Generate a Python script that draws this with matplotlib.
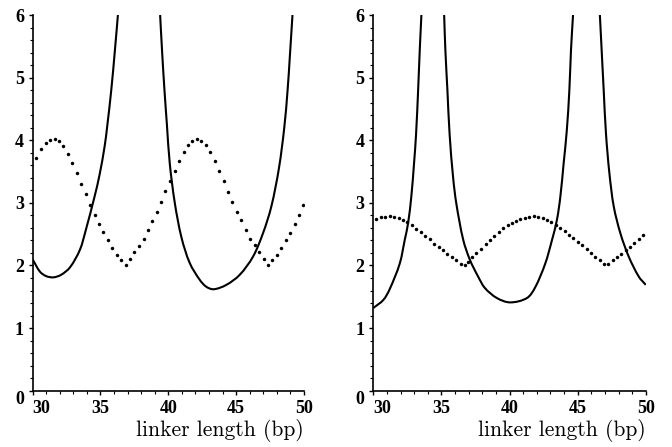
import matplotlib
matplotlib.use('Agg')
import matplotlib.pyplot as plt
import numpy as np
from matplotlib.ticker import FixedLocator, MultipleLocator
from matplotlib.path import Path
from matplotlib.patches import PathPatch

nan = np.nan

# ---------------- data ----------------
x_ticks = [30, 35, 40, 45, 50]
y_ticks = [0, 1, 2, 3, 4, 5, 6]
x_tick_labels = ["30", "35", "40", "45", "50"]
y_tick_labels = ["0", "1", "2", "3", "4", "5", "6"]
x_label = "linker length (bp)"

# left panel, solid curve (NaN = the curve leaves the top of the plot)
left_solid_x = [30.00, 30.55, 31.00, 31.53, 32.10, 32.76, 33.49, 33.93, 34.57, 34.94,
                35.31, 35.50, 35.80, 36.07, 36.29, nan,
                39.40, 39.55, 39.72, 39.90, 40.11, 40.48, 40.97, 41.58, 42.32, 42.80,
                43.35, 44.28, 45.26, 46.24, 46.97, 47.59, 48.15, 48.54, 48.79,
                48.96, 49.15]
left_solid_y = [2.10, 1.90, 1.83, 1.81, 1.85, 1.97, 2.25, 2.57, 3.10, 3.45,
                3.90, 4.22, 4.80, 5.44, 6.00, nan,
                6.00, 5.40, 4.80, 4.25, 3.63, 3.00, 2.45, 2.04, 1.77, 1.66,
                1.62, 1.69, 1.85, 2.14, 2.51, 2.94, 3.55, 4.19, 4.80,
                5.35, 6.00]

# left panel, dotted curve
left_dot_x = [30.28, 30.65, 30.97, 31.29, 31.63, 31.95, 32.27, 32.61, 32.93, 33.27,
              33.59, 33.93, 34.25, 34.57, 34.89, 35.21, 35.55, 35.87, 36.19, 36.53,
              36.85, 37.17, 37.51, 37.83, 38.18, 38.49, 38.81, 39.15, 39.47, 39.79,
              40.11, 40.48, 40.79, 41.14, 41.46, 41.78, 42.10, 42.44, 42.76, 43.10,
              43.42, 43.74, 44.08, 44.40, 44.72, 45.06, 45.38, 45.70, 46.04, 46.36,
              46.68, 47.02, 47.34, 47.66, 48.00, 48.32, 48.64, 48.98, 49.30, 49.62,
              49.96]
left_dot_y = [3.72, 3.86, 3.95, 4.00, 4.02, 3.98, 3.90, 3.78, 3.63, 3.47,
              3.30, 3.14, 2.96, 2.81, 2.66, 2.53, 2.40, 2.28, 2.17, 2.08,
              2.01, 2.10, 2.21, 2.31, 2.43, 2.57, 2.71, 2.86, 3.02, 3.19,
              3.35, 3.51, 3.67, 3.81, 3.92, 3.99, 4.02, 3.99, 3.92, 3.81,
              3.67, 3.51, 3.35, 3.18, 3.02, 2.86, 2.72, 2.57, 2.43, 2.33,
              2.21, 2.11, 2.01, 2.08, 2.17, 2.28, 2.40, 2.52, 2.66, 2.81,
              2.97]

# right panel, solid curve
right_solid_x = [30.00, 30.74, 31.20, 31.94, 32.31, 32.55, 32.79, 32.99, 33.14, 33.29,
                 33.41, 33.53, nan,
                 35.20, 35.29, 35.44, 35.60, 35.86, 36.10, 36.60, 37.09, 37.70, 38.19,
                 39.07, 40.05, 41.28, 41.88, 42.62, 43.12, 43.48, 43.73, 43.97, 44.20,
                 44.39, 44.51, 44.66, nan,
                 46.63, 46.76, 46.91, 47.08, 47.33, 47.65, 48.14, 48.75, 49.49, 50.00]
right_solid_y = [1.32, 1.45, 1.62, 2.03, 2.41, 2.67, 3.10, 3.63, 4.10, 4.80,
                 5.44, 6.00, nan,
                 6.00, 5.44, 4.80, 4.10, 3.40, 2.98, 2.41, 2.09, 1.82, 1.64,
                 1.48, 1.41, 1.48, 1.65, 2.03, 2.41, 2.73, 3.10, 3.63, 4.15,
                 4.80, 5.44, 6.00, nan,
                 6.00, 5.44, 4.80, 4.10, 3.47, 2.94, 2.51, 2.14, 1.82, 1.69]

# right panel, dotted curve
right_dot_x = [30.22, 30.54, 30.88, 31.20, 31.51, 31.86, 32.18, 32.50, 32.85, 33.16,
               33.49, 33.82, 34.15, 34.46, 34.81, 35.13, 35.44, 35.79, 36.10, 36.43,
               36.72, 36.96, 37.26, 37.57, 37.90, 38.24, 38.56, 38.88, 39.22, 39.54,
               39.85, 40.17, 40.47, 40.79, 41.10, 41.45, 41.76, 42.09, 42.43, 42.75,
               43.07, 43.41, 43.73, 44.05, 44.37, 44.69, 45.01, 45.33, 45.65, 45.97,
               46.29, 46.61, 46.93, 47.25, 47.57, 47.89, 48.21, 48.53, 48.85, 49.17,
               49.49, 49.81]
right_dot_y = [2.74, 2.77, 2.78, 2.79, 2.78, 2.76, 2.73, 2.69, 2.64, 2.58,
               2.53, 2.47, 2.42, 2.35, 2.30, 2.25, 2.18, 2.13, 2.08, 2.03,
               2.00, 2.06, 2.14, 2.20, 2.27, 2.34, 2.41, 2.47, 2.54, 2.60,
               2.64, 2.68, 2.71, 2.74, 2.76, 2.78, 2.79, 2.78, 2.76, 2.73,
               2.69, 2.65, 2.60, 2.55, 2.49, 2.44, 2.38, 2.32, 2.26, 2.20,
               2.14, 2.08, 2.03, 2.03, 2.08, 2.14, 2.19, 2.25, 2.30, 2.36,
               2.42, 2.48]

panels = [
    (left_solid_x, left_solid_y, left_dot_x, left_dot_y),
    (right_solid_x, right_solid_y, right_dot_x, right_dot_y),
]


def smooth_path(xs, ys, sx=13.6, sy=62.6):
    """Chord-length Catmull-Rom Bezier path through the read points; NaN splits pieces."""
    xs = np.asarray(xs, float)
    ys = np.asarray(ys, float)
    verts, codes = [], []
    breaks = np.where(np.isnan(xs))[0]
    starts = np.concatenate([[0], breaks + 1])
    ends = np.concatenate([breaks, [len(xs)]])
    for s, e in zip(starts, ends):
        p = np.column_stack([xs[s:e], ys[s:e]])
        n = len(p)
        q = p * np.array([sx, sy])
        d = np.hypot(*np.diff(q, axis=0).T)
        t = np.concatenate([[0], np.cumsum(d)])
        m = np.zeros_like(p)
        for i in range(n):
            a = max(i - 1, 0)
            b = min(i + 1, n - 1)
            m[i] = (p[b] - p[a]) / (t[b] - t[a])
        verts.append(p[0]); codes.append(Path.MOVETO)
        for i in range(n - 1):
            h = t[i + 1] - t[i]
            c1 = p[i] + m[i] * h / 3.0
            c2 = p[i + 1] - m[i + 1] * h / 3.0
            verts += [c1, c2, p[i + 1]]
            codes += [Path.CURVE4] * 3
    return Path(np.array(verts), codes)


# ---------------- figure ----------------
fig = plt.figure(figsize=(6.72, 4.47), dpi=100)
positions = [[0.0484, 0.126, 0.4040, 0.8404],
             [0.5555, 0.126, 0.4055, 0.8404]]

tick_font = dict(family='Liberation Serif', weight='bold', size=13)

for pos, (sx, sy, dx, dy) in zip(positions, panels):
    ax = fig.add_axes(pos)
    patch = PathPatch(smooth_path(sx, sy), facecolor='none', edgecolor='black',
                      lw=1.5, capstyle='butt', joinstyle='round')
    ax.add_patch(patch)
    ax.plot(dx, dy, linestyle='none', marker='o', ms=2.5, mew=0, color='black')
    ax.set_xlim(30, 50)
    ax.set_ylim(0, 6)
    for s in ['top', 'right']:
        ax.spines[s].set_visible(False)
    for s in ['left', 'bottom']:
        ax.spines[s].set_linewidth(1.2)
    ax.xaxis.set_major_locator(FixedLocator(x_ticks))
    ax.xaxis.set_minor_locator(MultipleLocator(1))
    ax.yaxis.set_major_locator(FixedLocator(y_ticks))
    ax.yaxis.set_minor_locator(MultipleLocator(0.2))
    ax.set_xticklabels(x_tick_labels, fontdict=tick_font)
    ax.set_yticklabels(y_tick_labels, fontdict=tick_font)
    ax.tick_params(axis='both', which='major', length=3, width=1.0, direction='out')
    ax.tick_params(axis='both', which='minor', length=2.2, width=0.8, direction='out')
    ax.tick_params(axis='x', which='major', pad=3.8)
    ax.tick_params(axis='y', which='major', pad=3.2)
    ax.get_xticklabels()[0].set_horizontalalignment('left')
    ax.get_yticklabels()[0].set_verticalalignment('top')
    ax.set_xlabel(x_label, loc='right', family='cmr10', size=15.5, labelpad=1)

fig.savefig('out.png', dpi=100)
